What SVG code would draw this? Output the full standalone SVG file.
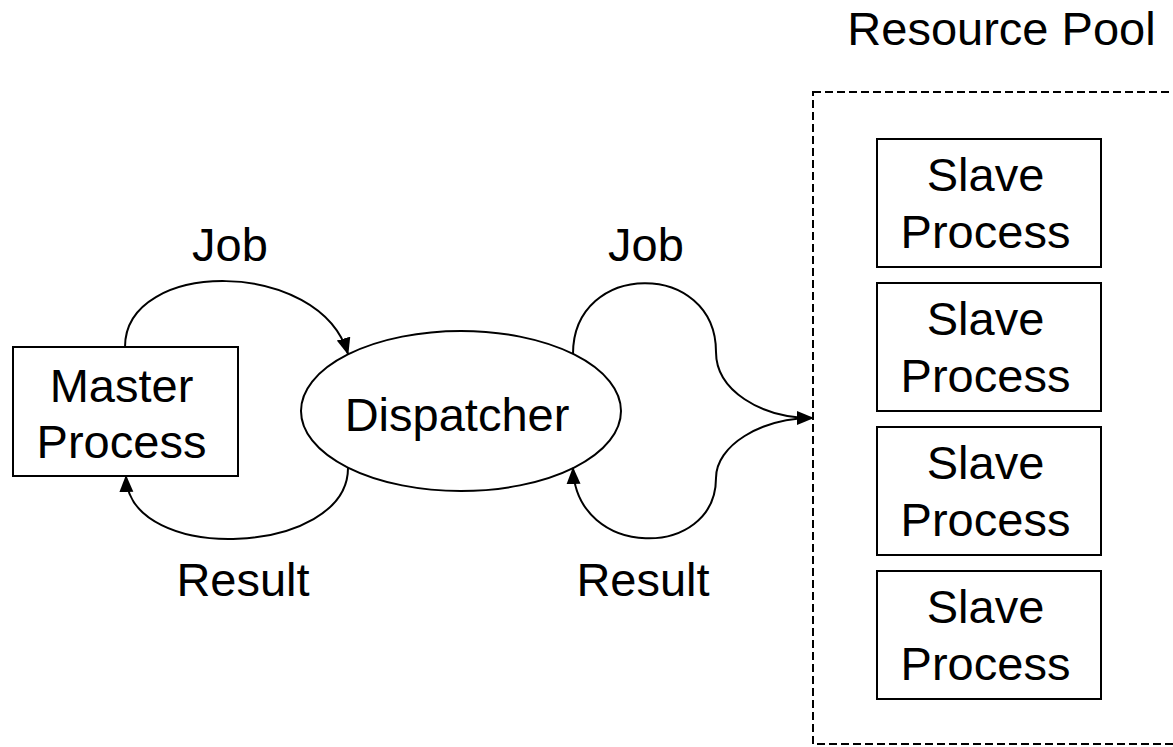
<svg xmlns="http://www.w3.org/2000/svg" width="1173" height="747" viewBox="0 0 1173 747">
  <style>
    text { font-family: "Liberation Sans", Arial, sans-serif; font-size: 47px; fill: #000; text-anchor: middle; }
    .box { fill: #fff; stroke: #000; stroke-width: 2; }
    .conn { fill: none; stroke: #000; stroke-width: 2; }
    .pool { fill: none; stroke: #000; stroke-width: 2; stroke-dasharray: 8 4; }
  </style>
  <defs>
    <marker id="arrow" markerUnits="userSpaceOnUse" markerWidth="17" markerHeight="16" viewBox="0 0 17 16" refX="16" refY="8" orient="auto">
      <path d="M0,1 L17,8 L0,15 z" fill="#000"/>
    </marker>
  </defs>
  <rect width="1173" height="747" fill="#fff"/>

  <g id="resource-pool">
    <rect class="pool" x="813" y="92" width="400" height="652"/>
    <text x="1001.5" y="45">Resource Pool</text>
  </g>

  <g id="master">
    <rect class="box" x="13" y="347" width="225" height="129"/>
    <text x="121.5" y="402">Master</text>
    <text x="121.5" y="457.5">Process</text>
  </g>

  <g id="dispatcher">
    <ellipse class="box" cx="461" cy="411" rx="160" ry="80"/>
    <text x="457" y="431">Dispatcher</text>
  </g>

  <g id="slave1">
    <rect class="box" x="877" y="139" width="224" height="128"/>
    <text x="985.5" y="191">Slave</text>
    <text x="985.5" y="247.5">Process</text>
  </g>
  <g id="slave2">
    <rect class="box" x="877" y="283" width="224" height="128"/>
    <text x="985.5" y="335">Slave</text>
    <text x="985.5" y="391.5">Process</text>
  </g>
  <g id="slave3">
    <rect class="box" x="877" y="427" width="224" height="128"/>
    <text x="985.5" y="479">Slave</text>
    <text x="985.5" y="535.5">Process</text>
  </g>
  <g id="slave4">
    <rect class="box" x="877" y="571" width="224" height="128"/>
    <text x="985.5" y="623">Slave</text>
    <text x="985.5" y="679.5">Process</text>
  </g>

  <g id="connectors">
    <path class="conn" d="M125,347 C125,258 320,258 348,354" marker-end="url(#arrow)"/>
    <path class="conn" d="M348,468 C348,556 128,566 126,476" marker-end="url(#arrow)"/>
    <path class="conn" d="M573,354 C573,260 716,260 716,352 C716,390 760,418 813,418" marker-end="url(#arrow)"/>
    <path class="conn" d="M813,418 C760,418 716,446 716,478 C716,560 576,560 573,468" marker-end="url(#arrow)"/>
    <text x="230" y="261">Job</text>
    <text x="243" y="596">Result</text>
    <text x="646" y="261">Job</text>
    <text x="643" y="596">Result</text>
  </g>
</svg>
